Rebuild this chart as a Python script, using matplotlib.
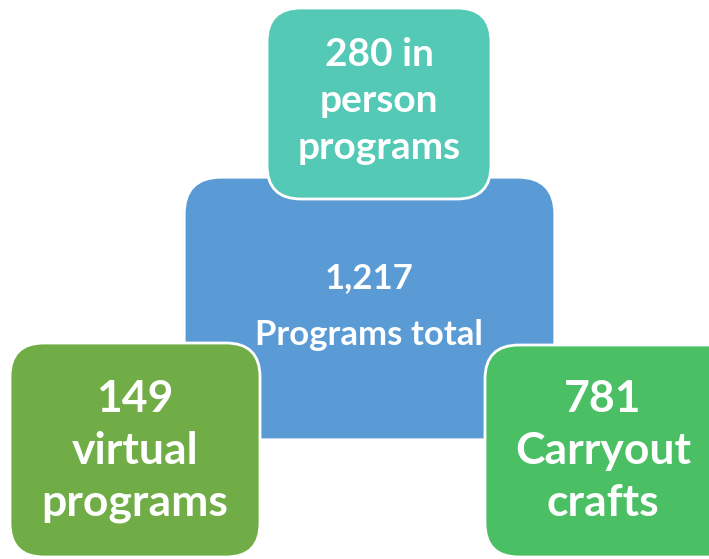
import matplotlib
matplotlib.use('Agg')
import matplotlib.pyplot as plt
from matplotlib.patches import FancyBboxPatch

# numbers and labels shown in the diagram
total_count = '1,217'
total_label = 'Programs total'
part_counts = ['280', '149', '781']
part_labels = ['in\nperson\nprograms', 'virtual\nprograms', 'Carryout\ncrafts']

plt.rcParams['font.family'] = ['Lato', 'DejaVu Sans']

W, H = 709, 559
fig = plt.figure(figsize=(W / 100, H / 100), dpi=100)
ax = fig.add_axes([0, 0, 1, 1])
ax.set_xlim(0, W)
ax.set_ylim(H, 0)
ax.axis('off')


def box(x0, y0, x1, y1, color, edge, z):
    p = FancyBboxPatch((x0, y0), x1 - x0, y1 - y0,
                       boxstyle='round,pad=0,rounding_size=34',
                       facecolor=color, edgecolor=edge, linewidth=2.0,
                       zorder=z, clip_on=False)
    ax.add_patch(p)


# centre box
box(187, 180, 552, 437, '#5b9bd5', '#5b9bd5', 1)
ax.text(369, 278, total_count, ha='center', va='center', color='white',
        fontsize=25, fontweight='bold', zorder=5)
ax.text(369, 335, total_label, ha='center', va='center', color='white',
        fontsize=25, fontweight='bold', zorder=5)

# top box
box(267, 8, 491, 199, '#53c9b6', 'white', 2)
top_text = part_counts[0] + ' ' + part_labels[0]
ax.text(379, 101, top_text, ha='center', va='center', color='white',
        fontsize=28, fontweight='bold', linespacing=1.4, zorder=5)

# bottom left box
box(10, 343, 260, 557, '#70ad47', 'white', 2)
ax.text(135, 451, part_counts[1] + '\n' + part_labels[1], ha='center',
        va='center', color='white', fontsize=32, fontweight='bold',
        linespacing=1.36, zorder=5)

# bottom right box
box(485, 345, 745, 557, '#4abf64', 'white', 2)
ax.text(603, 451, part_counts[2] + '\n' + part_labels[2], ha='center',
        va='center', color='white', fontsize=32, fontweight='bold',
        linespacing=1.36, zorder=5)

fig.savefig('out.png', dpi=100)
